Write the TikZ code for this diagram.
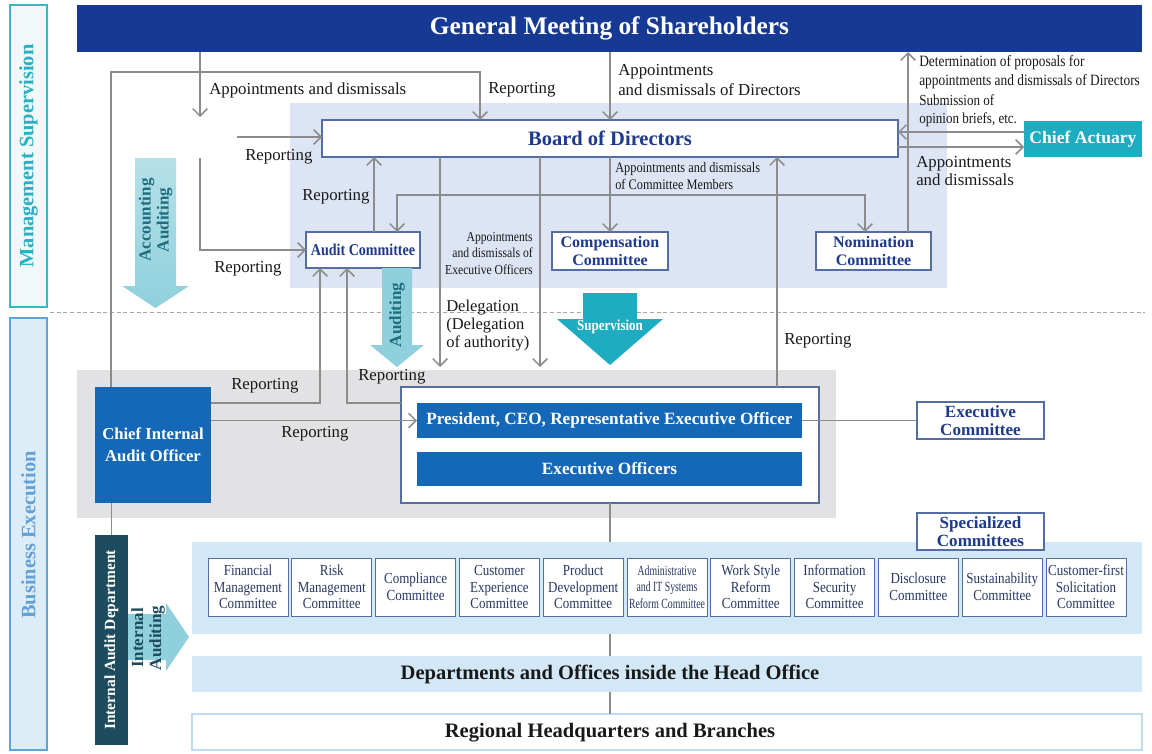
\documentclass[tikz,border=0pt]{standalone}
\usepackage{fontspec}
\setmainfont{Liberation Serif}
\newfontfamily\cnd[FakeStretch=0.85]{Liberation Serif}
\newfontfamily\ncnd[FakeStretch=0.7]{Liberation Serif}
\usetikzlibrary{arrows.meta}
\definecolor{hdrblue}{RGB}{22,58,148}
\definecolor{ttlblue}{RGB}{30,58,140}
\definecolor{bdr}{RGB}{84,110,160}
\definecolor{lav}{RGB}{221,228,243}
\definecolor{cteal}{RGB}{30,172,192}
\definecolor{ltteal}{RGB}{143,208,220}
\definecolor{lblue}{RGB}{211,232,246}
\definecolor{gpanel}{RGB}{226,226,228}
\definecolor{mblue}{RGB}{20,104,183}
\definecolor{iadc}{RGB}{28,76,94}
\definecolor{cgray}{RGB}{140,140,140}
\definecolor{msupb}{RGB}{60,182,199}
\definecolor{msupf}{RGB}{240,248,250}
\definecolor{msupt}{RGB}{42,176,194}
\definecolor{bexb}{RGB}{92,165,214}
\definecolor{bexf}{RGB}{220,237,248}
\definecolor{bext}{RGB}{98,160,214}
\definecolor{arrtxt}{RGB}{30,110,128}
\definecolor{lblk}{RGB}{25,25,25}
\definecolor{cmtxt}{RGB}{40,55,100}
\definecolor{regb}{RGB}{190,220,240}
\tikzset{
  place/.style n args={4}{minimum width={(#3-#1)*0.75pt}, minimum height={(#4-#2)*0.75pt},
    at={({(#1+#3)/2},{(#2+#4)/2})}, inner sep=0pt, outer sep=0pt, align=center},
  lbl/.style={font=\fontsize{12.6pt}{15pt}\selectfont, text=lblk, align=left, inner sep=0pt},
  conn/.style={draw=cgray, line width=1.1pt},
  arr/.style={-{Straight Barb[length=5.5pt,width=11pt]}},
  arrs/.style={{Straight Barb[length=5.5pt,width=11pt]}-{Straight Barb[length=5.5pt,width=11pt]}},
  wbox/.style={draw=bdr, line width=0.8pt, fill=white, text=ttlblue},
  bbox/.style={fill=mblue, text=white},
  cbox/.style={draw=bdr, line width=0.7pt, fill=white, text=cmtxt,
    font=\cnd\fontsize{11.5pt}{12.4pt}\selectfont},
  bigtxt/.style={text=lblk, inner sep=0pt, font=\bfseries\fontsize{15.4pt}{18pt}\selectfont},
}
\begin{document}
\begin{tikzpicture}[x=0.75pt,y=-0.75pt]
\useasboundingbox (0,0) rectangle (1152,753);
\fill[white] (0,0) rectangle (1152,753);

% side bands
\node[place={10}{5}{47}{307}, draw=msupb, line width=1.6pt, fill=msupf] (msup) {};
\node[rotate=90, text=msupt, font=\bfseries\fontsize{15.3pt}{18pt}\selectfont] (msupl) at (msup.center) {Management Supervision};
\node[place={10}{318}{47}{750}, draw=bexb, line width=1.6pt, fill=bexf] (bexe) {};
\node[rotate=90, text=bext, font=\bfseries\fontsize{15.3pt}{18pt}\selectfont] (bexel) at (28.5,535) {Business Execution};

% header
\node[place={77}{5}{1142}{52}, fill=hdrblue, text=white, font=\bfseries\fontsize{19pt}{22pt}\selectfont] (hdr) {General Meeting of Shareholders};

% background panels
\node[place={290}{103}{947}{288}, fill=lav] (lavp) {};
\draw[dash pattern=on 3pt off 2pt, draw=black!35, line width=0.6pt] (50,312) coordinate (dl) -- (1145,312) coordinate (dr);
\node[place={77}{370}{836}{518}, fill=gpanel] (gpan) {};
\node[place={192}{542}{1142}{634}, fill=lblue] (companel) {};
\node[place={192}{656}{1142}{692}, fill=lblue] (dept) {};
\node[bigtxt] (deptt) at (610,674) {Departments and Offices inside the Head Office};
\node[place={192}{714}{1142}{750}, fill=white, draw=regb, line width=1.5pt] (reg) {};
\node[bigtxt] (regt) at (610,733) {Regional Headquarters and Branches};

% main boxes
\node[wbox, place={322}{120}{898}{157}, font=\bfseries\fontsize{15.4pt}{18pt}\selectfont] (board) {Board of Directors};
\node[wbox, place={306}{232}{420}{268}, font=\cnd\bfseries\fontsize{12.4pt}{14pt}\selectfont] (audit) {Audit Committee};
\node[wbox, place={552}{232}{668}{270}, font=\bfseries\fontsize{12pt}{13.5pt}\selectfont] (comp) {Compensation\\Committee};
\node[wbox, place={816}{232}{931}{270}, font=\bfseries\fontsize{12pt}{13.5pt}\selectfont] (nom) {Nomination\\Committee};
\node[place={1024}{121}{1142}{157}, fill=cteal, text=white, font=\bfseries\fontsize{13.2pt}{15pt}\selectfont] (actuary) {Chief Actuary};

\node[bbox, place={95}{387}{211}{503}, font=\bfseries\fontsize{12.5pt}{16.5pt}\selectfont] (ciao) {Chief Internal\\Audit Officer};
\node[place={401}{387}{819}{503}, fill=white, draw=bdr, line width=0.8pt] (execbox) {};
\node[bbox, place={417}{403}{802}{438}, font=\bfseries\fontsize{12.9pt}{15pt}\selectfont] (pres) {President, CEO, Representative Executive Officer};
\node[bbox, place={417}{452}{802}{486}, font=\bfseries\fontsize{12.9pt}{15pt}\selectfont] (eo) {Executive Officers};
\node[wbox, place={917}{402}{1044}{439}, font=\bfseries\fontsize{12.8pt}{13.5pt}\selectfont] (ecom) {Executive\\Committee};
\node[wbox, place={917}{513}{1044}{550}, font=\bfseries\fontsize{12.8pt}{13.5pt}\selectfont] (scom) {Specialized\\Committees};

\node[place={95}{535}{128}{745}, fill=iadc] (iad) {};
\node[rotate=90, text=white, font=\bfseries\fontsize{11.6pt}{14pt}\selectfont] (iadl) at (iad.center) {Internal Audit Department};

% specialized committee boxes
\foreach \i/\t in {0/{Financial\\Management\\Committee},1/{Risk\\Management\\Committee},2/{Compliance\\Committee},3/{Customer\\Experience\\Committee},4/{Product\\Development\\Committee},6/{Work Style\\Reform\\Committee},7/{Information\\Security\\Committee},8/{Disclosure\\Committee},9/{Sustainability\\Committee},10/{Customer-first\\Solicitation\\Committee}}{
  \pgfmathsetmacro\xa{208+83.8*\i}
  \pgfmathsetmacro\xb{\xa+80}
  \node[cbox, place={\xa}{558}{\xb}{616}] (sc\i) {\t};
}
\node[cbox, place={627}{558}{707}{616}, font=\ncnd\fontsize{10.5pt}{12.4pt}\selectfont] (sc5) {Administrative\\and IT Systems\\Reform Committee};

% big block arrows
\shade[top color=ltteal!65, bottom color=ltteal] (135,158) -- (176,158) -- (176,286) -- (189,286) -- (155.5,308) -- (122,286) -- (135,286) -- cycle;
\node[rotate=90, text=arrtxt, align=center, font=\bfseries\fontsize{12.75pt}{13.5pt}\selectfont] (accl) at (155.5,220) {Accounting\\Auditing};
\fill[ltteal] (382,268) -- (412,268) -- (412,345) -- (424,345) -- (397,367) -- (370,345) -- (382,345) -- cycle;
\node[rotate=90, text=arrtxt, font=\bfseries\fontsize{12.75pt}{13.5pt}\selectfont] (audl) at (397,315) {Auditing};
\fill[cteal] (583,293) -- (637,293) -- (637,319) -- (663,319) -- (610,365) -- (557,319) -- (583,319) -- cycle;
\node[text=white, font=\cnd\bfseries\fontsize{11.5pt}{13pt}\selectfont] (supl) at (610,327) {Supervision};
\fill[ltteal] (128,614) -- (166,614) -- (166,603) -- (189,637) -- (166,671) -- (166,660) -- (128,660) -- cycle;
\node[rotate=90, text=iadc, align=center, font=\bfseries\fontsize{12.75pt}{13.5pt}\selectfont] (intl) at (148,638) {Internal\\Auditing};

% connectors
\coordinate (aA) at (200,117);
\draw[conn,arr] (hdr.south -| aA) -- (aA);
\coordinate (aB) at (237,137);
\draw[conn,arr] (aB) -- (aB -| board.west);
\coordinate (aC) at (200,158);
\draw[conn,arr] (aC) |- (audit.west);

\coordinate (rL) at (111,72);
\coordinate (rR) at (480,72);
\draw[conn,arr] (ciao.north -| rL) -- (rL) -- (rR) -- (board.north -| rR);

\draw[conn,arr] (hdr.south -| board.north) -- (board.north);

\coordinate (nX) at (908,0);
\draw[conn,arr] (nom.north -| nX) -- (hdr.south -| nX);

\coordinate (caU) at (0,132);
\coordinate (caD) at (0,147);
\draw[conn,arr] (actuary.west |- caU) -- (board.east |- caU);
\draw[conn,arr] (board.east |- caD) -- (actuary.west |- caD);

\coordinate (cmL) at (397,195);
\coordinate (cmR) at (865,195);
\draw[conn,arrs] (audit.north -| cmL) -- (cmL) -- (cmR) -- (nom.north -| cmR);
\draw[conn,arr] (board.south) -- (comp.north);

\coordinate (arX) at (374,0);
\draw[conn,arr] (audit.north -| arX) -- (board.south -| arX);

\coordinate (d1) at (440,367);
\coordinate (d2) at (540,367);
\draw[conn,arr] (board.south -| d1) -- (d1);
\draw[conn,arr] (board.south -| d2) -- (d2);

\coordinate (erX) at (777,0);
\draw[conn,arr] (execbox.north -| erX) -- (board.south -| erX);

\coordinate (ca1) at (320,403);
\draw[conn,arr] (ciao.east |- ca1) -- (ca1) -- (audit.south -| ca1);
\coordinate (ea1) at (347,403);
\draw[conn,arr] (execbox.west |- ea1) -- (ea1) -- (audit.south -| ea1);

\draw[conn,arr] (ciao.east |- pres.west) -- (pres.west);
\draw[conn] (pres.east) -- (ecom.west);

\coordinate (vX) at (610,0);
\draw[conn] (execbox.south -| vX) -- (companel.north -| vX);
\draw[conn] (companel.south -| vX) -- (dept.north -| vX);
\draw[conn] (dept.south -| vX) -- (reg.north -| vX);
\draw[conn] (ciao.south -| iad.north) -- (iad.north);

% labels
\node[lbl, anchor=west] (l1) at (209,90) {Appointments and dismissals};
\node[lbl, anchor=west] (l2) at (488,90) {Reporting};
\node[lbl, anchor=west, font=\fontsize{12.6pt}{15pt}\selectfont] (l3) at (618,80) {Appointments\\and dismissals of Directors};
\node[lbl, anchor=west, font=\cnd\fontsize{11.8pt}{14.2pt}\selectfont] (l4) at (919,72.5) {Determination of proposals for\\appointments and dismissals of Directors};
\node[lbl, anchor=west, font=\cnd\fontsize{11.5pt}{13.5pt}\selectfont] (l5) at (919,111) {Submission of\\opinion briefs, etc.};
\node[lbl, anchor=west, font=\fontsize{12.6pt}{13.5pt}\selectfont] (l6) at (916,171) {Appointments\\and dismissals};
\node[lbl, anchor=west] (l7) at (245,157) {Reporting};
\node[lbl, anchor=west] (l8) at (214,269) {Reporting};
\node[lbl, anchor=west] (l9) at (302,197) {Reporting};
\node[lbl, anchor=west, font=\cnd\fontsize{10.9pt}{12.75pt}\selectfont] (l10) at (615,176.5) {Appointments and dismissals\\of Committee Members};
\node[lbl, anchor=east, align=right, font=\cnd\fontsize{10.3pt}{12.4pt}\selectfont] (l11) at (533,253.5) {Appointments\\and dismissals of\\Executive Officers};
\node[lbl, anchor=west, font=\fontsize{12.4pt}{13.5pt}\selectfont] (l12) at (446,326) {Delegation\\(Delegation\\of authority)};
\node[lbl, anchor=west] (l13) at (784,341) {Reporting};
\node[lbl, anchor=west] (l14) at (231,386) {Reporting};
\node[lbl, anchor=west] (l15) at (358,377) {Reporting};
\node[lbl, anchor=west] (l16) at (281,434) {Reporting};
\end{tikzpicture}
\end{document}
